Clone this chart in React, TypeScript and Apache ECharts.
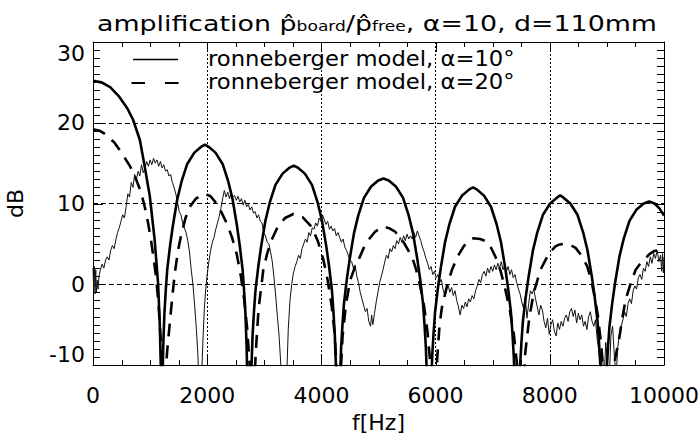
import React, { useEffect, useRef } from 'react';
import * as echarts from 'echarts';

const FONT = 'DejaVu Sans';

const titleText = 'amplification {h|p\u0302}{s|board}/{h|p\u0302}{s|free}, α=10, d=110mm';
const xAxisName = 'f[Hz]';
const yAxisName = 'dB';
const legendLabels = ['ronneberger model, α=10°', 'ronneberger model, α=20°'];

const X_MIN = 0;
const X_MAX = 10000;
const X_STEP = 2000;
const Y_MIN = -10;
const Y_MAX = 30;
const Y_STEP = 10;

// tick positions (major + minor) along the frame
const xTickValues = [0, 500, 1000, 1500, 2000, 2500, 3000, 3500, 4000, 4500, 5000, 5500, 6000, 6500, 7000, 7500, 8000, 8500, 9000, 9500, 10000];
const yTickValues = [-10, -9, -8, -7, -6, -5, -4, -3, -2, -1, 0, 1, 2, 3, 4, 5, 6, 7, 8, 9, 10, 11, 12, 13, 14, 15, 16, 17, 18, 19, 20, 21, 22, 23, 24, 25, 26, 27, 28, 29, 30];

// ronneberger model, alpha = 10 deg  [f (Hz), dB]
const model10: [number, number][] = [
  [0, 25.2], [150, 25.0], [300, 24.4], [450, 23.3], [600, 21.8], [700, 20.4], [820, 17.9], [905, 14.6],
  [995, 10.9], [1080, 5.5], [1140, 0.1], [1170, -5], [1190, -11], [1200, -40],
  [1215, -12.7], [1230, -7.7], [1250, -3.7], [1275, -0.7], [1300, 1.8], [1350, 4.8], [1400, 7.3], [1475, 10.5],
  [1550, 12.7], [1650, 14.9], [1775, 16.3], [1900, 17.05], [1960, 17.3], [2020, 17.05], [2145, 16.3], [2270, 14.9],
  [2370, 12.7], [2445, 10.5], [2520, 7.3], [2570, 4.8], [2620, 1.8], [2645, -0.7], [2670, -3.7], [2690, -7.7],
  [2705, -12.7], [2720, -40],
  [2760, -15.3], [2775, -10.3], [2795, -6.3], [2820, -3.3], [2845, -0.8], [2895, 2.2], [2945, 4.7], [3020, 7.9],
  [3095, 10.1], [3195, 12.3], [3320, 13.7], [3445, 14.45], [3515, 14.7], [3585, 14.45], [3710, 13.7], [3835, 12.3],
  [3935, 10.1], [4010, 7.9], [4085, 4.7], [4135, 2.2], [4185, -0.8], [4210, -3.3], [4235, -6.3], [4255, -10.3],
  [4270, -15.3], [4285, -40],
  [4310, -16.9], [4325, -11.9], [4345, -7.9], [4370, -4.9], [4395, -2.4], [4445, 0.6], [4495, 3.1], [4570, 6.3],
  [4645, 8.5], [4745, 10.7], [4870, 12.1], [4995, 12.85], [5087, 13.1], [5180, 12.85], [5305, 12.1], [5430, 10.7],
  [5530, 8.5], [5605, 6.3], [5680, 3.1], [5730, 0.6], [5780, -2.4], [5805, -4.9], [5830, -7.9], [5850, -11.9],
  [5865, -16.9], [5880, -40],
  [5905, -18], [5920, -13], [5940, -9], [5965, -6], [5990, -3.5], [6040, -0.5], [6090, 2.0], [6165, 5.2],
  [6240, 7.4], [6340, 9.6], [6465, 11.0], [6590, 11.75], [6655, 12.0], [6720, 11.75], [6845, 11.0], [6970, 9.6],
  [7070, 7.4], [7145, 5.2], [7220, 2.0], [7270, -0.5], [7320, -3.5], [7345, -6], [7370, -9], [7390, -13],
  [7405, -18], [7420, -40],
  [7445, -19], [7460, -14], [7480, -10], [7505, -7], [7530, -4.5], [7580, -1.5], [7630, 1.0], [7705, 4.2],
  [7780, 6.4], [7880, 8.6], [8005, 10.0], [8130, 10.75], [8182, 11.0], [8235, 10.75], [8360, 10.0], [8485, 8.6],
  [8585, 6.4], [8660, 4.2], [8735, 1.0], [8785, -1.5], [8835, -4.5], [8860, -7], [8885, -10], [8905, -14],
  [8920, -19], [8935, -40],
  [8960, -19.75], [8975, -14.75], [8995, -10.75], [9020, -7.75], [9045, -5.25], [9095, -2.25], [9145, 0.25],
  [9220, 3.45], [9295, 5.65], [9395, 7.85], [9520, 9.25], [9645, 10.0], [9740, 10.25], [9835, 10.0], [9920, 9.4],
  [10000, 8.5],
];

// ronneberger model, alpha = 20 deg  [f (Hz), dB]
const model20: [number, number][] = [
  [0, 19.2], [120, 19.0], [234, 18.5], [380, 17.5], [526, 16.0], [650, 14.6], [760, 12.9], [840, 11.4],
  [906, 9.6], [970, 7.4], [1023, 5.1], [1070, 2.8], [1111, 0.5], [1150, -2.8], [1187, -6.9], [1210, -12], [1230, -40],
  [1260, -12], [1300, -8.2], [1345, -4.8], [1390, -1.5], [1433, 1.4], [1490, 4.2], [1550, 6.3], [1620, 8.2],
  [1696, 9.6], [1800, 10.6], [1960, 11.2], [2060, 10.9], [2164, 10.0], [2250, 8.9], [2339, 7.6], [2430, 5.9],
  [2515, 3.8], [2590, 1.0], [2650, -2.0], [2700, -5.5], [2740, -9.5], [2765, -14], [2790, -40],
  [2815, -14], [2850, -8.5], [2900, -3.0], [2983, 1.8], [3050, 3.8], [3129, 5.5], [3240, 7.2], [3363, 8.2],
  [3510, 8.7], [3670, 8.3], [3831, 7.1], [3940, 5.3], [4036, 3.0], [4110, 0.5], [4182, -2.8], [4230, -6],
  [4270, -11], [4300, -40],
  [4330, -12], [4370, -6.5], [4430, -2.5], [4504, 0.5], [4580, 2.0], [4650, 3.0], [4740, 4.5], [4826, 5.5],
  [4940, 6.5], [5060, 7.1], [5100, 7.1], [5200, 6.9], [5293, 6.5], [5440, 5.2], [5586, 3.4], [5660, 1.8],
  [5732, -0.3], [5800, -2.8], [5860, -6.0], [5910, -10], [5945, -15], [5970, -40],
  [5990, -15], [6030, -9], [6070, -5], [6112, -2.8], [6200, -0.2], [6287, 1.8], [6390, 3.5], [6492, 4.7],
  [6580, 5.4], [6667, 5.7], [6780, 5.6], [6901, 5.3], [6980, 4.4], [7048, 3.4], [7140, 1.6], [7223, -0.7],
  [7300, -3.2], [7370, -6.2], [7420, -9.5], [7460, -14], [7495, -40],
  [7520, -14], [7570, -8.5], [7640, -4.2], [7720, -1.0], [7837, 1.8], [7983, 3.8], [8100, 4.7], [8159, 4.9],
  [8246, 5.0], [8350, 4.9], [8451, 4.5], [8560, 3.5], [8656, 2.2], [8720, 0.7], [8773, -1.1], [8840, -3.8],
  [8900, -7.5], [8950, -12], [8990, -40],
  [9020, -15], [9080, -11.5], [9150, -9], [9211, -6.9], [9270, -4.2], [9328, -1.9], [9420, 0.2], [9504, 1.8],
  [9580, 2.5], [9650, 3.0], [9740, 3.7], [9825, 4.1], [9900, 4.2], [10000, 4.0],
];

// measured amplification (noisy trace)  [f (Hz), dB]
const measured: [number, number][] = [
  [0, 2.0], [12, -0.5], [24, 2.2], [36, -1.2], [48, 1.8], [60, -1.0], [75, 0.5], [90, -0.6], [105, 1.0],
  [130, 1.8], [160, 2.5], [190, 2.0], [220, 3.0], [250, 3.4], [280, 3.0], [310, 4.2], [340, 4.8], [370, 4.4],
  [400, 5.5], [430, 6.4], [460, 7.0], [490, 7.8], [520, 8.6], [550, 8.2], [580, 9.6], [610, 11.2], [640, 10.8],
  [670, 12.6], [700, 12.0], [730, 13.6], [760, 13.0], [790, 14.0], [820, 13.4], [850, 14.8], [880, 13.8],
  [910, 14.4], [940, 15.2], [970, 14.6], [1000, 15.4], [1030, 14.8], [1060, 15.6], [1090, 15.0], [1120, 15.4],
  [1150, 14.6], [1180, 15.2], [1210, 14.4], [1240, 14.8], [1270, 14.0], [1300, 14.2], [1330, 13.4], [1360, 13.6],
  [1390, 12.6], [1420, 12.0], [1450, 11.2], [1480, 10.2], [1510, 9.0], [1540, 8.6], [1570, 7.6], [1600, 7.0],
  [1630, 6.4], [1660, 5.4], [1690, 4.0], [1720, 1.8], [1750, 0], [1780, -2.6], [1810, -5.5], [1835, -8.5],
  [1855, -12], [1880, -14], [1905, -11], [1925, -7], [1950, -3.0], [1975, -0.5], [2000, 1.2], [2030, 2.8],
  [2060, 4.2], [2090, 5.2], [2120, 5.8], [2150, 6.8], [2180, 7.6], [2210, 8.4], [2240, 9.4], [2270, 10.6],
  [2300, 11.6], [2330, 10.8], [2360, 11.4], [2390, 10.6], [2420, 11.4], [2450, 10.8], [2480, 11.0], [2510, 10.4],
  [2540, 10.9], [2570, 10.2], [2600, 10.6], [2630, 9.8], [2660, 10.4], [2690, 9.6], [2720, 9.9], [2750, 9.2],
  [2780, 9.6], [2810, 8.8], [2840, 9.0], [2870, 8.2], [2900, 8.6], [2930, 7.8], [2960, 7.6], [2990, 6.4],
  [3020, 6.0], [3050, 5.2], [3080, 5.0], [3110, 4.0], [3140, 2.8], [3170, 0.8], [3200, -1.5], [3230, -4.0],
  [3260, -6.5], [3285, -9.5], [3310, -13], [3350, -15], [3390, -12], [3420, -5.5], [3450, -2.0], [3480, 0],
  [3510, 1.4], [3540, 2.2], [3570, 2.8], [3600, 3.6], [3630, 3.2], [3660, 4.4], [3690, 5.0], [3720, 5.6],
  [3750, 5.2], [3780, 6.4], [3810, 6.0], [3840, 7.0], [3870, 6.8], [3900, 7.6], [3930, 7.2], [3960, 8.2],
  [3990, 7.8], [4020, 8.6], [4050, 8.0], [4080, 7.4], [4110, 7.8], [4140, 6.8], [4170, 7.2], [4200, 6.6],
  [4230, 6.9], [4260, 6.0], [4290, 6.4], [4320, 5.8], [4350, 5.2], [4380, 5.6], [4410, 4.6], [4440, 4.2],
  [4470, 3.6], [4500, 3.0], [4530, 2.8], [4560, 2.0], [4590, 2.4], [4620, 1.0], [4650, 0.2], [4680, -1.0],
  [4710, -1.8], [4740, -2.6], [4770, -3.4], [4800, -3.0], [4830, -4.6], [4860, -5.2], [4880, -3.8], [4900, -5.0],
  [4930, -3.6], [4960, -2.2], [4990, -1.0], [5020, 0.2], [5050, 1.0], [5080, 1.8], [5110, 2.8], [5140, 3.6],
  [5170, 3.2], [5200, 4.4], [5230, 4.0], [5260, 4.8], [5290, 4.4], [5320, 5.4], [5350, 5.0], [5380, 5.8],
  [5410, 5.2], [5440, 6.0], [5470, 5.4], [5500, 6.2], [5530, 5.6], [5560, 6.0], [5590, 5.6], [5620, 6.4],
  [5650, 5.8], [5680, 6.6], [5710, 6.0], [5740, 5.4], [5770, 4.6], [5800, 4.0], [5830, 3.2], [5860, 2.6],
  [5890, 1.8], [5920, 2.2], [5950, 1.2], [5980, 1.6], [6010, 0.8], [6040, 1.2], [6070, 0.2], [6100, 0.6],
  [6130, -0.6], [6160, -1.4], [6190, -0.6], [6220, -0.2], [6250, -1.0], [6280, -0.4], [6310, -1.4], [6340, -0.8],
  [6370, -2.0], [6400, -2.8], [6430, -3.8], [6460, -2.6], [6490, -3.0], [6520, -2.2], [6550, -2.8], [6580, -1.8],
  [6610, -2.2], [6640, -1.4], [6670, -1.8], [6700, -0.8], [6730, -0.2], [6760, 0.6], [6790, 0.2], [6820, 1.2],
  [6850, 1.6], [6880, 1.0], [6910, 2.0], [6940, 1.4], [6970, 2.2], [7000, 1.6], [7030, 2.4], [7060, 1.8],
  [7090, 2.6], [7120, 2.0], [7150, 2.8], [7180, 1.8], [7210, 2.4], [7240, 1.6], [7270, 2.2], [7300, 1.2],
  [7330, 1.8], [7360, 0.8], [7390, 1.2], [7420, 0.2], [7450, -0.6], [7480, -1.2], [7510, -2.2], [7540, -3.0],
  [7570, -1.6], [7600, -4.2], [7630, -2.4], [7660, -0.8], [7690, -1.2], [7720, -0.6], [7750, -1.8], [7780, -2.8],
  [7810, -3.8], [7840, -2.6], [7870, -3.2], [7900, -4.6], [7930, -5.4], [7960, -4.2], [7990, -6.2], [8020, -5.0],
  [8050, -4.4], [8080, -5.8], [8110, -6.4], [8140, -4.8], [8170, -5.6], [8200, -4.6], [8230, -5.2], [8260, -4.2],
  [8290, -3.8], [8320, -4.6], [8350, -3.4], [8380, -3.0], [8410, -4.0], [8440, -3.2], [8470, -4.8], [8500, -3.6],
  [8530, -4.4], [8560, -3.8], [8590, -5.2], [8620, -4.6], [8650, -5.6], [8680, -4.0], [8710, -3.4], [8740, -4.6],
  [8770, -5.2], [8800, -4.4], [8830, -6.8], [8860, -8.2], [8890, -11], [8920, -8.4], [8950, -12], [8980, -7.2],
  [9010, -9.8], [9040, -12], [9070, -6.4], [9100, -5.2], [9130, -8.8], [9160, -11.5], [9190, -7.8], [9220, -6.2],
  [9250, -5.2], [9280, -4.4], [9310, -3.4], [9340, -4.0], [9370, -2.4], [9400, -1.8], [9430, -2.4], [9460, -0.8],
  [9490, -0.2], [9520, -0.6], [9550, 0.8], [9580, 1.2], [9610, 0.6], [9640, 2.0], [9670, 1.6], [9700, 2.8],
  [9730, 2.2], [9760, 3.4], [9790, 2.6], [9820, 3.8], [9850, 3.2], [9880, 4.2], [9910, 2.8], [9940, 3.6],
  [9960, 1.6], [9975, 3.8], [9990, 1.4], [10000, 3.4],
];

const black = '#000';

function axisLineOpt() {
  return { show: true, onZero: false, lineStyle: { color: black, width: 1 } };
}

export default function App() {
  const ref = useRef<HTMLDivElement>(null);
  useEffect(() => {
    if (!ref.current) return;
    const chart = echarts.init(ref.current, undefined, { renderer: 'svg' });
    const tickLine = (x1: number, y1: number, x2: number, y2: number) => ({
      type: 'line', shape: { x1, y1, x2, y2 }, style: { stroke: black, lineWidth: 1 }, silent: true,
    });
    chart.setOption({
      animation: false,
      backgroundColor: '#fff',
      grid: { left: 93, right: 35, top: 42, bottom: 70, containLabel: false, outerBoundsMode: 'none' },
      xAxis: [
        {
          type: 'value', min: X_MIN, max: X_MAX, interval: X_STEP, position: 'bottom',
          axisLine: axisLineOpt(),
          axisTick: { show: false },
          axisLabel: { show: true, color: black, fontSize: 22, fontFamily: FONT, margin: 19, formatter: (v: number) => String(v) },
          splitLine: { show: true, lineStyle: { color: black, width: 1, type: [2, 2] } },
          name: xAxisName, nameLocation: 'middle', nameGap: 46,
          nameTextStyle: { color: black, fontSize: 22, fontFamily: FONT },
        },
        {
          type: 'value', min: X_MIN, max: X_MAX, interval: X_STEP, position: 'top',
          axisLine: axisLineOpt(),
          axisTick: { show: false },
          axisLabel: { show: false },
          splitLine: { show: false },
        },
      ],
      yAxis: [
        {
          type: 'value', min: Y_MIN, max: Y_MAX, interval: Y_STEP, position: 'left',
          axisLine: axisLineOpt(),
          axisTick: { show: false },
          axisLabel: {
            show: true, color: black, fontSize: 22, fontFamily: FONT, margin: 8,
            verticalAlignMaxLabel: 'top', verticalAlignMinLabel: 'bottom',
          },
          splitLine: { show: true, lineStyle: { color: black, width: 1, type: [5, 3] } },
          name: yAxisName, nameLocation: 'middle', nameGap: 67,
          nameTextStyle: { color: black, fontSize: 22, fontFamily: FONT },
        },
        {
          type: 'value', min: Y_MIN, max: Y_MAX, interval: Y_STEP, position: 'right',
          axisLine: axisLineOpt(),
          axisTick: { show: false },
          axisLabel: { show: false },
          splitLine: { show: false },
        },
      ],
      series: [
        {
          name: 'measured', type: 'line', data: measured, symbol: 'none', clip: true, silent: true,
          xAxisIndex: 0, yAxisIndex: 0,
          lineStyle: { color: '#111', width: 1 },
        },
        {
          name: legendLabels[0], type: 'line', data: model10, symbol: 'none', clip: true, silent: true,
          xAxisIndex: 0, yAxisIndex: 0,
          lineStyle: { color: black, width: 2.6 },
        },
        {
          name: legendLabels[1], type: 'line', data: model20, symbol: 'none', clip: true, silent: true,
          xAxisIndex: 0, yAxisIndex: 0,
          lineStyle: { color: black, width: 2.6, type: [13, 9] },
        },
        {
          name: 'x ticks', type: 'custom', silent: true, clip: false,
          xAxisIndex: 0, yAxisIndex: 0,
          encode: { x: 0, y: 1 },
          data: xTickValues.map((v) => [v, Y_MIN]),
          renderItem: (_params: any, api: any) => {
            const v = api.value(0);
            const b = api.coord([v, Y_MIN]);
            const t = api.coord([v, Y_MAX]);
            const len = v % X_STEP === 0 ? 10 : 5;
            const x = Math.round(b[0]) + 0.5;
            return {
              type: 'group',
              children: [tickLine(x, b[1], x, b[1] - len), tickLine(x, t[1], x, t[1] + len)],
            };
          },
        },
        {
          name: 'y ticks', type: 'custom', silent: true, clip: false,
          xAxisIndex: 0, yAxisIndex: 0,
          encode: { x: 0, y: 1 },
          data: yTickValues.map((v) => [X_MIN, v]),
          renderItem: (_params: any, api: any) => {
            const v = api.value(1);
            const l = api.coord([X_MIN, v]);
            const r = api.coord([X_MAX, v]);
            const len = v % Y_STEP === 0 ? 10 : 7;
            const y = Math.round(l[1]) + 0.5;
            return {
              type: 'group',
              children: [tickLine(l[0], y, l[0] + len, y), tickLine(r[0], y, r[0] - len, y)],
            };
          },
        },
      ],
      graphic: [
        {
          type: 'text', x: 97, y: 23, scaleX: 1.22,
          style: {
            text: titleText, fontSize: 22, fontFamily: FONT, fill: black,
            textVerticalAlign: 'middle', verticalAlign: 'middle',
            rich: {
              h: { fontSize: 22, fontFamily: FONT, fill: black },
              s: { fontSize: 14, fontFamily: FONT, fill: black, verticalAlign: 'bottom' },
            },
          },
        },
        { type: 'line', shape: { x1: 133, y1: 59.5, x2: 178, y2: 59.5 }, style: { stroke: black, lineWidth: 1.3 } },
        { type: 'line', shape: { x1: 131.5, y1: 83, x2: 178.5, y2: 83 }, style: { stroke: black, lineWidth: 2, lineDash: [13.5, 20] } },
        {
          type: 'text', x: 208, y: 58.5, scaleX: 1.08,
          style: { text: legendLabels[0], fontSize: 21, fontFamily: FONT, fill: black, textVerticalAlign: 'middle', verticalAlign: 'middle' },
        },
        {
          type: 'text', x: 208, y: 82, scaleX: 1.08,
          style: { text: legendLabels[1], fontSize: 21, fontFamily: FONT, fill: black, textVerticalAlign: 'middle', verticalAlign: 'middle' },
        },
      ],
    });
    return () => chart.dispose();
  }, []);
  return <div ref={ref} style={{ position: 'fixed', left: 0, top: 0, width: 699, height: 435, background: '#fff' }} />;
}
